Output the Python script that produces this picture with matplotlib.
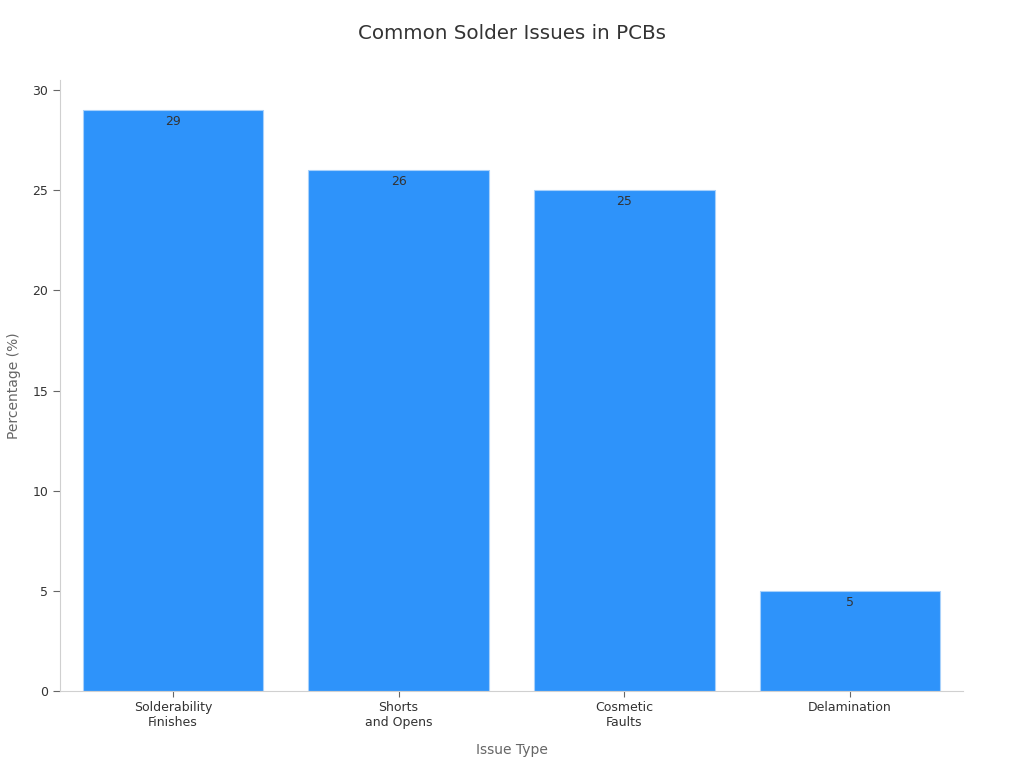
import matplotlib
matplotlib.use("Agg")
import matplotlib.pyplot as plt

categories = ["Solderability\nFinishes", "Shorts\nand Opens", "Cosmetic\nFaults", "Delamination"]
values = [29, 26, 25, 5]

plt.rcParams['font.family'] = ['DejaVu Sans']
fig = plt.figure(figsize=(10.24, 7.68), dpi=100)
ax = fig.add_axes([0.0586, 0.1003, 0.8818, 0.7955])

x = list(range(len(categories)))
bars = ax.bar(x, values, width=0.8, color="#2E93FA", edgecolor="#A8D1FB", linewidth=0.8)
for xi, v in zip(x, values):
    ax.annotate(str(v), (xi, v), xytext=(0, -3.5), textcoords="offset points",
                ha="center", va="top", fontsize=9, color="#333333")

ax.set_xlim(-0.5, 3.5)
ax.set_ylim(0, 30.5)
ax.set_yticks([0, 5, 10, 15, 20, 25, 30])
ax.set_xticks(x)
ax.set_xticklabels(categories, fontsize=9, color="#333333")
ax.tick_params(axis="y", labelsize=9, labelcolor="#333333", color="#666666", length=5)
ax.tick_params(axis="x", color="#666666", length=4)
for s in ["top", "right"]:
    ax.spines[s].set_visible(False)
for s in ["left", "bottom"]:
    ax.spines[s].set_color("#D0D0D0")
ax.set_xlabel("Issue Type", fontsize=10, color="#666666", labelpad=10)
ax.set_ylabel("Percentage (%)", fontsize=10, color="#666666", labelpad=8)
fig.suptitle("Common Solder Issues in PCBs", y=0.969, fontsize=14.3, color="#333333")

fig.savefig("out.png", dpi=100)
